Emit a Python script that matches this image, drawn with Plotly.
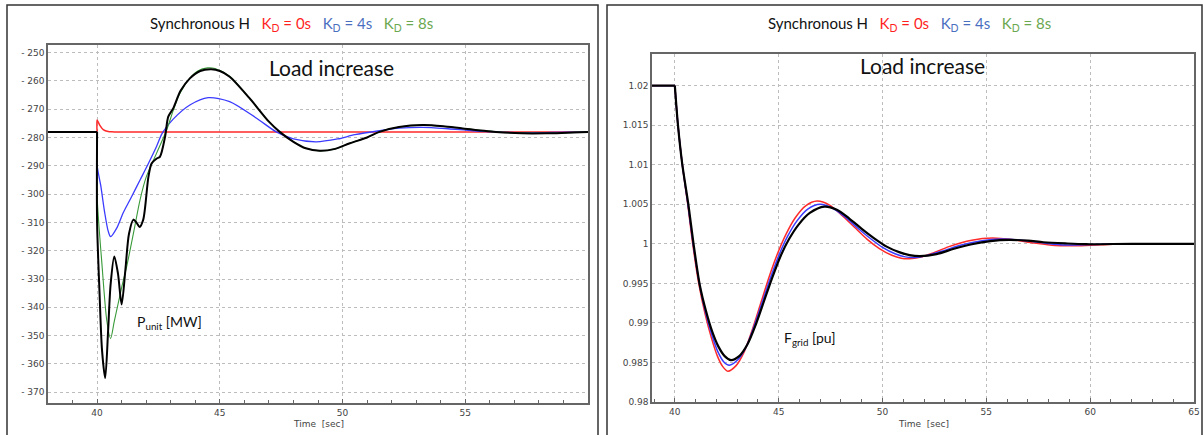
import plotly.graph_objects as go

W, H = 1203, 435

# ---- Left panel: unit active power P_unit [MW] (plotted as negative values) ----
t_p_black = [38, 40, 40.0, 40.1, 40.2, 40.33, 40.45, 40.55, 40.7, 40.85, 41.0, 41.15, 41.3, 41.48,
             41.6, 41.73, 41.88, 42.09, 42.22, 42.43, 42.56, 42.77, 42.9, 43.1, 43.4, 43.78, 44.2,
             44.65, 45.0, 45.4, 46.2, 47.0, 47.44, 48.0, 48.5, 49.07, 49.7, 50.3, 51.0, 51.5, 52.3,
             53.26, 54.1, 54.9, 56.25, 57.3, 58.3, 60]
p_black = [-278, -278, -310, -335, -355, -365, -348, -332, -322, -328, -339, -327, -314, -309,
           -310, -311.6, -309, -294, -289.2, -287.4, -286.8, -279.7, -272.6, -269.7, -263.5, -259.1, -256.5,
           -255.9, -256.5, -258.5, -266, -274.4, -278, -281.5, -283.8, -284.7, -284, -282, -280, -278, -276.3,
           -275.6, -276, -276.8, -278, -278.5, -278.5, -278]

t_p_green = [38, 40, 40.0, 40.2, 40.4, 40.55, 40.7, 41.0, 41.2, 41.5, 41.75, 42.0, 42.42, 42.83,
             43.1, 43.37, 43.78, 44.1, 44.5, 44.8, 45.4, 46.2, 47.0, 47.44, 48.0, 48.5, 49.07, 49.7,
             50.3, 51.0, 51.5, 52.3, 53.26, 54.1, 54.9, 56.25, 58.3, 60]
p_green = [-278, -278, -300.4, -325, -345, -351, -345, -333, -325.8, -313, -302, -294, -285.6, -277.4,
           -270.5, -264.4, -259, -256.5, -255.4, -255.6, -258.3, -266, -274.4, -278, -281.5, -283.8, -284.7, -284,
           -282, -280, -278, -276.3, -275.6, -276, -276.8, -278, -278.5, -278]

t_p_blue = [38, 40, 40.0, 40.15, 40.3, 40.45, 40.55, 40.8, 41.07, 41.4, 41.75, 42.1, 42.43, 42.65,
            43.1, 43.78, 44.53, 45.4, 46.5, 47.3, 48.0, 48.93, 49.8, 50.5, 51.5, 52.3, 53.25, 54.3,
            55.3, 56.5, 57.5, 58.5, 60]
p_blue = [-278, -278, -289.7, -297, -306, -313, -315, -312, -306.5, -301, -295, -289, -283, -278.5,
          -273.5, -268.5, -265.9, -267.3, -273.2, -278, -280.5, -281.5, -280.5, -279, -277.6, -276.7, -276.4, -276.9,
          -277.6, -278.1, -278.3, -278.2, -278]

t_p_red = [38, 40, 40.0, 40.1, 40.25, 40.45, 40.7, 60]
p_red = [-278, -278, -273.8, -275.5, -277.2, -277.9, -278, -278]

# ---- Right panel: grid frequency F_grid [pu] ----
t_f_black = [38.9, 40, 40.15, 40.36, 40.65, 40.9, 41.2, 41.5, 41.8, 42.1, 42.4, 42.7, 43.1, 43.5,
             43.9, 44.3, 44.7, 45.1, 45.5, 45.95, 46.5, 47.2, 47.8, 48.4, 49.0, 49.6, 50.2, 50.8,
             51.3, 51.8, 52.6, 53.44, 54.3, 55.2, 56.1, 57.0, 57.75, 58.8, 59.8, 62, 65]
f_black = [1.02, 1.02, 1.015, 1.01, 1.005, 1.0, 0.9948, 0.9915, 0.9889, 0.9870, 0.9858, 0.9853, 0.9858, 0.9873,
           0.9898, 0.9928, 0.9958, 0.9985, 1.0006, 1.0024, 1.0039, 1.0047, 1.0043, 1.0032, 1.0019, 1.0007, 0.99965, 0.99895,
           0.99858, 0.99845, 0.9987, 0.99937, 0.99995, 1.00035, 1.0005, 1.0004, 1.0002, 1.00005, 0.99995, 1.0, 1.0]

t_f_blue = [38.9, 40, 40.15, 40.36, 40.63, 40.88, 41.18, 41.48, 41.78, 42.08, 42.35, 42.62, 43.02, 43.42,
            43.82, 44.22, 44.62, 45.02, 45.42, 45.88, 46.4, 47.0, 47.6, 48.2, 48.8, 49.4, 50.0, 50.6,
            51.1, 51.55, 52.1, 52.9, 53.8, 54.8, 55.7, 56.7, 57.8, 58.8, 60, 61.5, 65]
f_blue = [1.02, 1.02, 1.015, 1.01, 1.005, 1.0, 0.995, 0.9913, 0.9885, 0.9863, 0.9851, 0.98465, 0.9853, 0.9869,
          0.9896, 0.9927, 0.9958, 0.9986, 1.0009, 1.0029, 1.0044, 1.0050, 1.0045, 1.0034, 1.0020, 1.0007, 0.99955, 0.99875,
          0.99835, 0.99828, 0.9985, 0.9991, 0.99985, 1.0004, 1.0006, 1.00045, 1.0001, 0.99985, 0.9999, 1.0, 1.0]

t_f_red = [38.9, 40, 40.15, 40.36, 40.62, 40.86, 41.15, 41.45, 41.75, 42.05, 42.3, 42.55, 42.95, 43.35,
           43.75, 44.15, 44.55, 44.95, 45.35, 45.8, 46.3, 46.85, 47.45, 48.05, 48.65, 49.25, 49.85, 50.45,
           50.9, 51.3, 51.8, 52.4, 53.2, 54.3, 55.3, 56.3, 57.3, 58.3, 59.3, 60.5, 62, 65]
f_red = [1.02, 1.02, 1.015, 1.01, 1.005, 1.0, 0.995, 0.9912, 0.9882, 0.9858, 0.9845, 0.9839, 0.9846, 0.9864,
         0.9893, 0.9926, 0.9959, 0.9988, 1.0012, 1.0033, 1.0048, 1.0054, 1.0049, 1.0036, 1.0021, 1.0006, 0.9994, 0.99855,
         0.99818, 0.99812, 0.9983, 0.9988, 0.99965, 1.00045, 1.00072, 1.0005, 1.0001, 0.99978, 0.99975, 0.99988, 1.0, 1.0]

p_ticks = list(range(-370, -249, 10))
f_ticks = [0.98, 0.985, 0.99, 0.995, 1.0, 1.005, 1.01, 1.015, 1.02]

RED, BLUE, GREEN, BLACK = "#ff2a2a", "#3b3bff", "#3a9a3a", "#000000"
T_EVENT = 40  # load step instant


def px(x):
    return x / W


def py(y):
    return 1 - y / H


fig = go.Figure()


def add(x, y, color, width, axis):
    """Steady state before the event drawn straight, the transient after it smoothed."""
    i = x.index(T_EVENT)
    for xs, ys, shape in ((x[:i + 1], y[:i + 1], "linear"), (x[i:], y[i:], "spline")):
        line = dict(color=color, width=width, shape=shape)
        if shape == "spline":
            line["smoothing"] = 0.8
        fig.add_trace(go.Scatter(x=xs, y=ys, mode="lines", xaxis="x" + axis, yaxis="y" + axis,
                                 line=line, showlegend=False, hoverinfo="skip"))


add(t_p_red, p_red, RED, 1.5, "")
add(t_p_blue, p_blue, BLUE, 1.3, "")
add(t_p_green, p_green, GREEN, 1.1, "")
add(t_p_black, p_black, BLACK, 2, "")
add(t_f_red, f_red, RED, 1.5, "2")
add(t_f_blue, f_blue, BLUE, 1.5, "2")
add(t_f_black, f_black, BLACK, 2.2, "2")

tickfont = dict(family="DejaVu Sans", size=9, color="#444")
common = dict(showline=True, mirror=True, linecolor="#666", linewidth=1.5,
              showgrid=True, gridcolor="#bdbdbd", griddash="dot", gridwidth=1,
              zeroline=False, tickfont=tickfont, automargin=False, fixedrange=True)

fig.update_layout(
    width=W, height=H, margin=dict(l=0, r=0, t=0, b=0),
    paper_bgcolor="white", plot_bgcolor="white",
    xaxis=dict(domain=[px(48), px(588)], range=[38, 60], tickvals=[40, 45, 50, 55],
               ticks="inside", ticklen=4, tickcolor="#666",
               minor=dict(dtick=1, tick0=0, ticks="inside", ticklen=3, tickcolor="#666", showgrid=False),
               anchor="y", **common),
    yaxis=dict(domain=[py(403), py(45)], range=[-373.8, -247.3], tickvals=p_ticks,
               ticktext=["- %d" % abs(v) for v in p_ticks], ticks="", anchor="x", **common),
    xaxis2=dict(domain=[px(652), px(1194)], range=[38.9, 65], tickvals=[40, 45, 50, 55, 60, 65],
                ticks="inside", ticklen=4, tickcolor="#666",
                minor=dict(dtick=1, tick0=0, ticks="inside", ticklen=3, tickcolor="#666", showgrid=False),
                anchor="y2", **common),
    yaxis2=dict(domain=[py(402), py(54)], range=[0.98, 1.024], tickvals=f_ticks,
                ticktext=["%g" % v for v in f_ticks], ticks="", anchor="x2", **common),
)

# panel frames
for x0, x1 in [(7, 598), (607, 1202)]:
    fig.add_shape(type="rect", xref="paper", yref="paper", x0=px(x0), x1=px(x1), y0=-0.1, y1=py(5),
                  line=dict(color="#333", width=1.5), fillcolor="rgba(0,0,0,0)", layer="below")

title = ("Synchronous H &nbsp;&nbsp;"
         "<span style='color:#ff1f1f'>K<sub>D</sub> = 0s</span>&nbsp;&nbsp; "
         "<span style='color:#4a6fc0'>K<sub>D</sub> = 4s</span>&nbsp;&nbsp; "
         "<span style='color:#6aa84f'>K<sub>D</sub> = 8s</span>")

ann = [
    (291, 24, title, 15),
    (909, 24, title, 15),
    (331, 68, "Load increase", 21),
    (922, 66, "Load increase", 21),
    (169, 322, "P<sub>unit</sub> [MW]", 14),
    (809, 338, "F<sub>grid</sub> [pu]", 14),
]
for x, y, txt, size in ann:
    fig.add_annotation(x=px(x), y=py(y), xref="paper", yref="paper", text=txt, showarrow=False,
                       xanchor="center", yanchor="middle", font=dict(family="Lato", size=size, color="#111"))

for x in (318, 923):
    fig.add_annotation(x=px(x), y=py(424), xref="paper", yref="paper", text="Time &nbsp;[sec]",
                       showarrow=False, xanchor="center", yanchor="middle",
                       font=dict(family="DejaVu Sans", size=9, color="#444"))

fig.write_html("out.html")
